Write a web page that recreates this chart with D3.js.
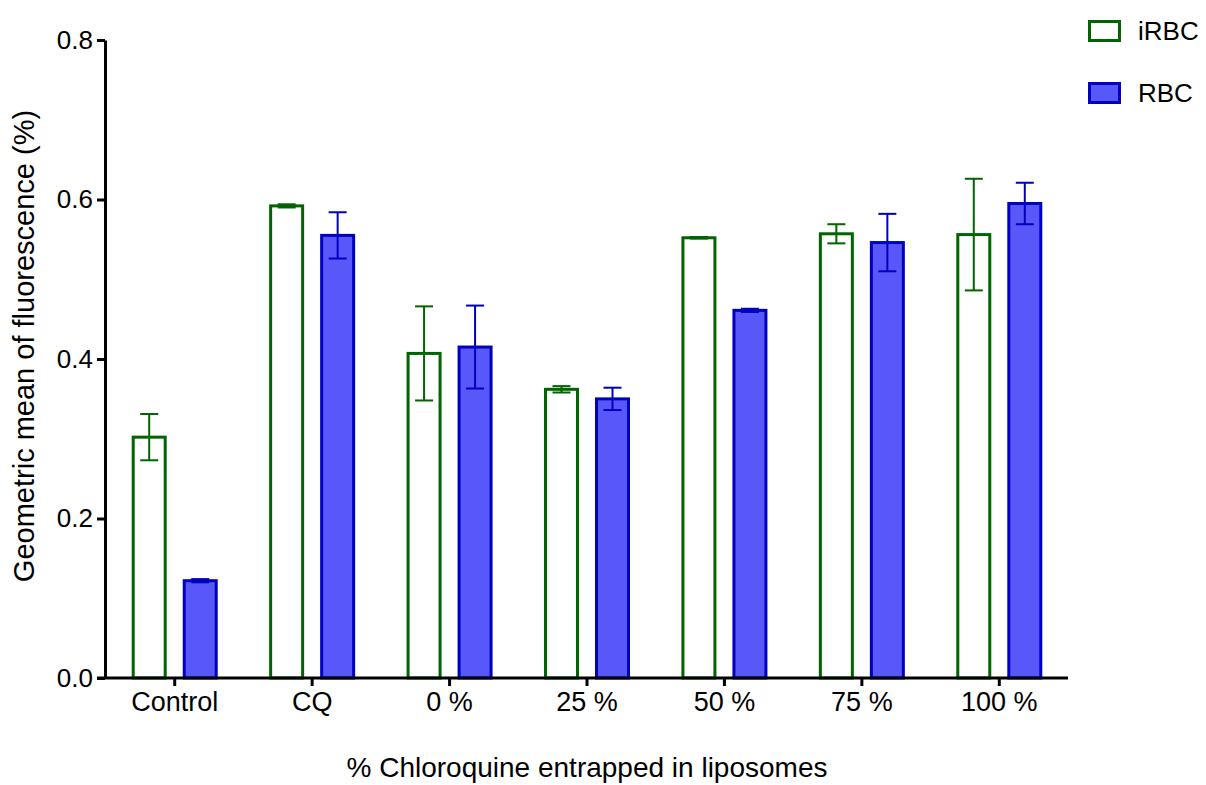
<!DOCTYPE html>
<html>
<head>
<meta charset="utf-8">
<script src="https://cdn.jsdelivr.net/npm/d3@7"></script>
<style>
  body { margin: 0; background: #fff; }
  svg { display: block; font-family: "Liberation Sans", Arial, sans-serif; }
</style>
</head>
<body>
<svg id="chart" width="1206" height="785"></svg>
<script>
// Chart data
const categories = ["Control", "CQ", "0 %", "25 %", "50 %", "75 %", "100 %"];
const seriesNames = ["iRBC", "RBC"];
const iRBCMeans = [0.302, 0.592, 0.407, 0.362, 0.552, 0.557, 0.556];
const iRBCErrors = [0.029, 0.002, 0.059, 0.004, 0.001, 0.012, 0.070];
const RBCMeans = [0.122, 0.555, 0.415, 0.350, 0.461, 0.546, 0.595];
const RBCErrors = [0.002, 0.029, 0.052, 0.014, 0.002, 0.036, 0.026];
const yTicks = [0.0, 0.2, 0.4, 0.6, 0.8];

const styles = {
  iRBC: { fill: "#ffffff", stroke: "#006400" },
  RBC: { fill: "#5858fa", stroke: "#0000c0" },
};
const FONT = '"Liberation Sans", Arial, sans-serif';

const svg = d3.select("#chart");
const margin = { top: 40, right: 138, bottom: 107, left: 105 };
const width = 1206, height = 785;

const x = d3
  .scaleBand()
  .domain(categories)
  .range([margin.left + 1, width - margin.right])
  .padding(0);

const groupWidth = 86;
const xSub = d3
  .scaleBand()
  .domain(seriesNames)
  .range([0, groupWidth])
  .paddingInner(0.314);

const y = d3
  .scaleLinear()
  .domain([0, 0.8])
  .range([height - margin.bottom, margin.top]);

// Build rows for each bar
const rows = [];
categories.forEach((c, i) => {
  rows.push({ cat: c, series: "iRBC", value: iRBCMeans[i], err: iRBCErrors[i] });
  rows.push({ cat: c, series: "RBC", value: RBCMeans[i], err: RBCErrors[i] });
});
const groupOffset = (x.bandwidth() - groupWidth) / 2;
const barX = (d) => x(d.cat) + groupOffset + xSub(d.series);

// Bars
svg
  .append("g")
  .selectAll("rect")
  .data(rows)
  .join("rect")
  .attr("x", (d) => barX(d) + 1.5)
  .attr("y", (d) => y(d.value))
  .attr("width", xSub.bandwidth() - 3)
  .attr("height", (d) => y(0) - y(d.value))
  .attr("fill", (d) => styles[d.series].fill)
  .attr("stroke", (d) => styles[d.series].stroke)
  .attr("stroke-width", 3);

// Error bars
const errG = svg.append("g");
rows.forEach((d) => {
  const cx = barX(d) + xSub.bandwidth() / 2;
  const col = styles[d.series].stroke;
  const hi = y(d.value + d.err);
  const lo = y(d.value - d.err);
  errG.append("line").attr("x1", cx).attr("x2", cx).attr("y1", hi).attr("y2", lo)
    .attr("stroke", col).attr("stroke-width", 2);
  [hi, lo].forEach((yy) => {
    errG.append("line").attr("x1", cx - 9).attr("x2", cx + 9).attr("y1", yy).attr("y2", yy)
      .attr("stroke", col).attr("stroke-width", 2);
  });
});

// Axes
const yAxis = svg
  .append("g")
  .attr("transform", `translate(${margin.left},0)`)
  .call(d3.axisLeft(y).tickValues(yTicks).tickFormat(d3.format(".1f")).tickSize(8).tickSizeOuter(0));

const xAxis = svg
  .append("g")
  .attr("transform", `translate(0,${y(0)})`)
  .call(d3.axisBottom(x).tickSize(8).tickSizeOuter(0));

[xAxis, yAxis].forEach((ax) => {
  ax.select(".domain").attr("stroke", "#000").attr("stroke-width", 3);
  ax.selectAll(".tick line").attr("stroke", "#000").attr("stroke-width", 3);
  ax.selectAll(".tick text").attr("fill", "#000").style("font-family", FONT);
});
xAxis.select(".domain").attr("d", `M${margin.left - 8},0H1068`);
xAxis.selectAll(".tick text").style("font-size", "27px").attr("dy", "0.71em").attr("y", 14);
yAxis.selectAll(".tick text").style("font-size", "26px").attr("x", -12);

// Axis titles
svg
  .append("text")
  .attr("transform", `translate(34,346) rotate(-90)`)
  .attr("text-anchor", "middle")
  .style("font-size", "29px")
  .text("Geometric mean of fluorescence (%)");

svg
  .append("text")
  .attr("x", 587)
  .attr("y", 777)
  .attr("text-anchor", "middle")
  .style("font-size", "28px")
  .text("% Chloroquine entrapped in liposomes");

// Legend
const legend = svg.append("g").attr("transform", "translate(1088,20)");
seriesNames.forEach((s, i) => {
  const g = legend.append("g").attr("transform", `translate(0,${i * 62})`);
  g.append("rect")
    .attr("x", 1.5)
    .attr("y", 1.5)
    .attr("width", 30)
    .attr("height", 19)
    .attr("fill", styles[s].fill)
    .attr("stroke", styles[s].stroke)
    .attr("stroke-width", 3);
  g.append("text")
    .attr("x", 50)
    .attr("y", 20)
    .style("font-size", "26px")
    .text(s);
});
</script>
</body>
</html>
